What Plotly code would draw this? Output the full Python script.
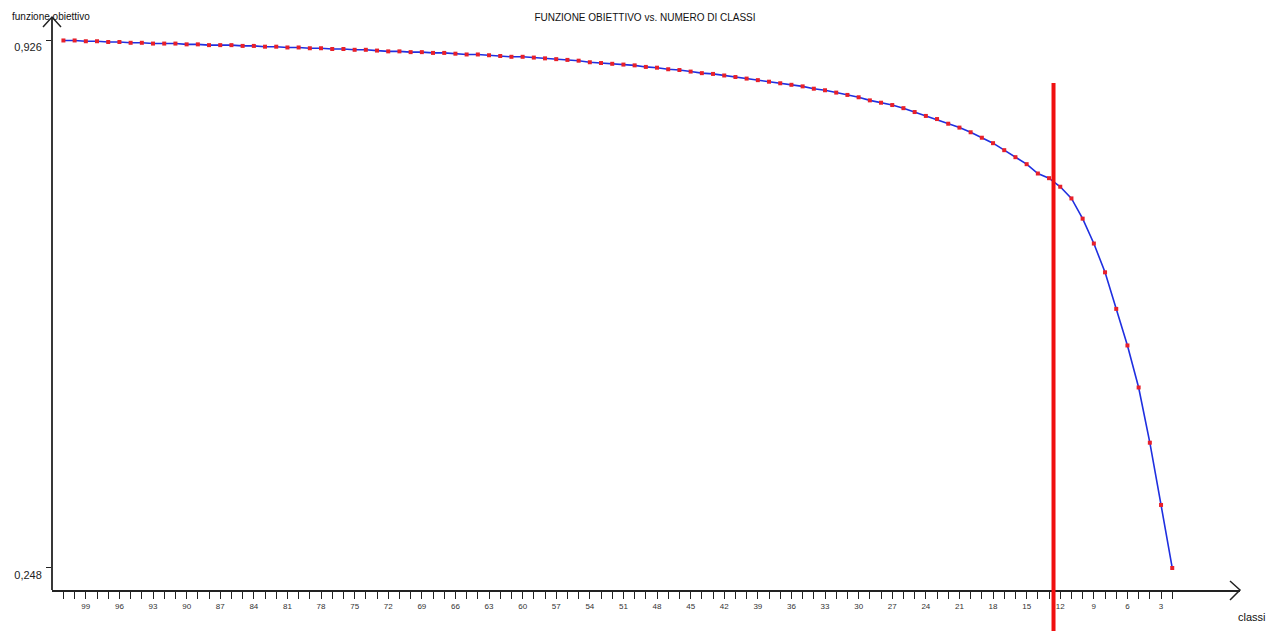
import plotly.graph_objects as go

# Numero di classi (asse x, decrescente da sinistra a destra)
classi = list(range(101, 1, -1))

# Valore della funzione obiettivo per ogni numero di classi
funzione_obiettivo = [
    0.926, 0.926, 0.925, 0.925, 0.924, 0.924, 0.923, 0.923, 0.922, 0.922,  # 101-92
    0.922, 0.921, 0.921, 0.920, 0.920, 0.920, 0.919, 0.919, 0.918, 0.918,  # 91-82
    0.917, 0.917, 0.916, 0.916, 0.915, 0.915, 0.914, 0.914, 0.913, 0.912,  # 81-72
    0.912, 0.911, 0.911, 0.910, 0.910, 0.909, 0.908, 0.908, 0.907, 0.906,  # 71-62
    0.905, 0.905, 0.904, 0.903, 0.902, 0.901, 0.900, 0.898, 0.897, 0.896,  # 61-52
    0.895, 0.894, 0.892, 0.891, 0.889, 0.888, 0.886, 0.884, 0.883, 0.881,  # 51-42
    0.879, 0.877, 0.875, 0.873, 0.871, 0.869, 0.867, 0.864, 0.862, 0.859,  # 41-32
    0.856, 0.853, 0.849, 0.846, 0.843, 0.839, 0.834, 0.829, 0.825, 0.819,  # 31-22
    0.814, 0.808, 0.801, 0.794, 0.785, 0.776, 0.767, 0.755, 0.749, 0.738,  # 21-12
    0.723, 0.697, 0.665, 0.628, 0.581, 0.534, 0.480, 0.409, 0.329, 0.248,  # 11-2
]

# Etichette dell'asse x: una ogni tre classi
etichette_x = [str(c) if c % 3 == 0 else "" for c in classi]

# Etichette dell'asse y: solo massimo e minimo
valori_y = [0.926, 0.248]
etichette_y = ["0,926", "0,248"]

# Numero di classi scelto (linea verticale rossa)
classi_scelte = 12.6

FONT = "Liberation Sans, Arial, sans-serif"

fig = go.Figure()
fig.add_trace(go.Scatter(
    x=classi,
    y=funzione_obiettivo,
    mode="lines+markers",
    line=dict(color="#1f2fe0", width=1.6),
    marker=dict(color="#e8202a", size=4, symbol="square"),
    cliponaxis=False,
    showlegend=False,
))

# geometria dell'area del grafico in pixel
L, R, T, B = 52, 30, 20, 41
W, H = 1270, 631
pw, ph = W - L - R, H - T - B


def px(x):
    return (x - L) / pw


def py(y):
    return (H - B - y) / ph


# frecce degli assi
fig.add_shape(type="path", xref="paper", yref="paper",
              path=f"M {px(43)} {py(27)} L {px(52)} {py(17)} L {px(61)} {py(27)}",
              line=dict(color="#222", width=1.5))
fig.add_shape(type="line", xref="paper", yref="paper",
              x0=px(52), y0=py(590), x1=px(52), y1=py(17),
              line=dict(color="#222", width=1.8))
fig.add_shape(type="path", xref="paper", yref="paper",
              path=f"M {px(1230)} {py(581)} L {px(1240)} {py(590)} L {px(1230)} {py(600)}",
              line=dict(color="#222", width=1.5))

# linea verticale del numero di classi scelto
fig.add_shape(type="line", xref="x", yref="paper",
              x0=classi_scelte, x1=classi_scelte, y0=py(640), y1=py(83),
              line=dict(color="#f01010", width=4))

fig.update_layout(
    width=W, height=H,
    margin=dict(l=L, r=R, t=T, b=B),
    paper_bgcolor="white",
    plot_bgcolor="white",
    font=dict(family=FONT, color="#222"),
    title=dict(text="FUNZIONE OBIETTIVO vs. NUMERO DI CLASSI",
               x=645 / W, xanchor="center", y=1 - 17 / H, yanchor="middle",
               font=dict(size=10, color="#111")),
    annotations=[
        dict(text="funzione obiettivo", xref="paper", yref="paper",
             x=px(10), y=py(17), xanchor="left", yanchor="middle",
             showarrow=False, font=dict(size=10, color="#111")),
        dict(text="classi", xref="paper", yref="paper",
             x=px(1268), y=py(617), xanchor="right", yanchor="middle",
             showarrow=False, font=dict(size=11, color="#111")),
    ],
)

fig.update_xaxes(
    range=[102.02, -4.05],
    showgrid=False, zeroline=False,
    showline=True, linecolor="#222", linewidth=1.8,
    ticks="outside", ticklen=7, tickwidth=1.4, tickcolor="#222",
    tickvals=classi, ticktext=etichette_x,
    tickfont=dict(size=8, color="#333"),
)
fig.update_yaxes(
    range=[0.2197, 0.9523],
    showgrid=False, zeroline=False,
    showline=False,
    ticks="outside", ticklen=5, tickwidth=1.4, tickcolor="#222",
    tickvals=valori_y, ticktext=etichette_y,
    ticklabelshift=7, ticklabelstandoff=2,
    tickfont=dict(size=11, color="#222"),
)

fig.write_html("out.html")
